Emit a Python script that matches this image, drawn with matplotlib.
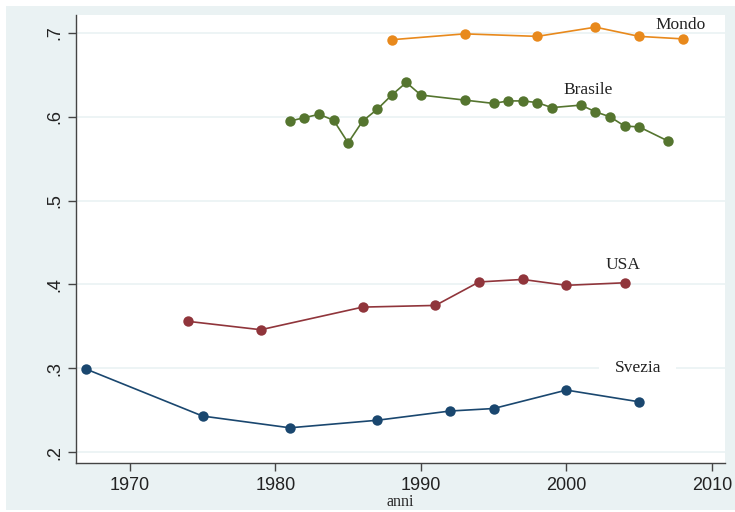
import matplotlib
matplotlib.use("Agg")
import matplotlib.pyplot as plt
from matplotlib.patches import Rectangle

# Data
svezia_years = [1967, 1975, 1981, 1987, 1992, 1995, 2000, 2005]
svezia_vals = [0.299, 0.243, 0.229, 0.238, 0.249, 0.252, 0.274, 0.260]

usa_years = [1974, 1979, 1986, 1991, 1994, 1997, 2000, 2004]
usa_vals = [0.356, 0.346, 0.373, 0.375, 0.403, 0.406, 0.399, 0.402]

brasile_years = [1981, 1982, 1983, 1984, 1985, 1986, 1987, 1988, 1989, 1990,
                 1993, 1995, 1996, 1997, 1998, 1999, 2001, 2002, 2003, 2004,
                 2005, 2007]
brasile_vals = [0.595, 0.599, 0.603, 0.596, 0.569, 0.595, 0.609, 0.626, 0.641,
                0.626, 0.620, 0.616, 0.619, 0.619, 0.617, 0.611, 0.614, 0.606,
                0.600, 0.589, 0.588, 0.571]

mondo_years = [1988, 1993, 1998, 2002, 2005, 2008]
mondo_vals = [0.692, 0.699, 0.696, 0.707, 0.696, 0.693]

x_ticks = [1970, 1980, 1990, 2000, 2010]
y_ticks = [0.2, 0.3, 0.4, 0.5, 0.6, 0.7]
y_ticklabels = [".2", ".3", ".4", ".5", ".6", ".7"]

labels = ["Mondo", "Brasile", "USA", "Svezia"]
label_x = [2006.1, 1999.8, 2002.7, 2003.3]
label_y = [0.709, 0.632, 0.423, 0.300]

colors = {"Svezia": "#1a476f", "USA": "#90353b", "Brasile": "#55752f", "Mondo": "#e8891c"}

fig = plt.figure(figsize=(7.35, 5.12), dpi=100)
fig.patch.set_facecolor("white")
bg = Rectangle((6/735, 2/512), 729/735, 504/512, transform=fig.transFigure,
               facecolor="#eaf2f3", edgecolor="none", zorder=-10)
fig.add_artist(bg)

ax = fig.add_axes([76/735, (512-463)/512, (725-76)/735, (463-15)/512])
ax.set_zorder(1)
ax.set_facecolor("white")

series = [("Svezia", svezia_years, svezia_vals),
          ("USA", usa_years, usa_vals),
          ("Brasile", brasile_years, brasile_vals),
          ("Mondo", mondo_years, mondo_vals)]
for name, xs, ys in series:
    ax.plot(xs, ys, color=colors[name], lw=1.2, marker="o", ms=7.5,
            markeredgewidth=0, zorder=3)

ax.set_xlim(1966.3, 2010.9)
ax.set_ylim(0.187, 0.7215)
ax.set_xticks(x_ticks)
ax.set_yticks(y_ticks)
ax.set_yticklabels(y_ticklabels, rotation=90, va="center")
ax.grid(axis="y", color="#eaf2f3", lw=1.2, zorder=0)
ax.grid(axis="x", visible=False)

for s in ["top", "right"]:
    ax.spines[s].set_visible(False)
for s in ["left", "bottom"]:
    ax.spines[s].set_color("#444444")
    ax.spines[s].set_linewidth(1.0)

ax.tick_params(axis="both", direction="out", length=6, width=1.0, color="#444444",
               labelsize=13, labelcolor="#222222")
ax.tick_params(axis="y", pad=3)
ax.tick_params(axis="x", pad=4)
for lbl in ax.get_xticklabels() + ax.get_yticklabels():
    lbl.set_family("Liberation Sans")

for t, x, y in zip(labels, label_x, label_y):
    kw = {}
    if t == "Svezia":
        kw["bbox"] = dict(facecolor="white", edgecolor="none", pad=11)
    ax.text(x, y, t, family="Liberation Serif", fontsize=12.5, color="#222222",
            ha="left", va="center", zorder=4, **kw)

ax.set_xlabel("anni", family="Liberation Serif", fontsize=11.5, labelpad=0, color="#222222")

fig.savefig("out.png", dpi=100, facecolor=fig.get_facecolor())
